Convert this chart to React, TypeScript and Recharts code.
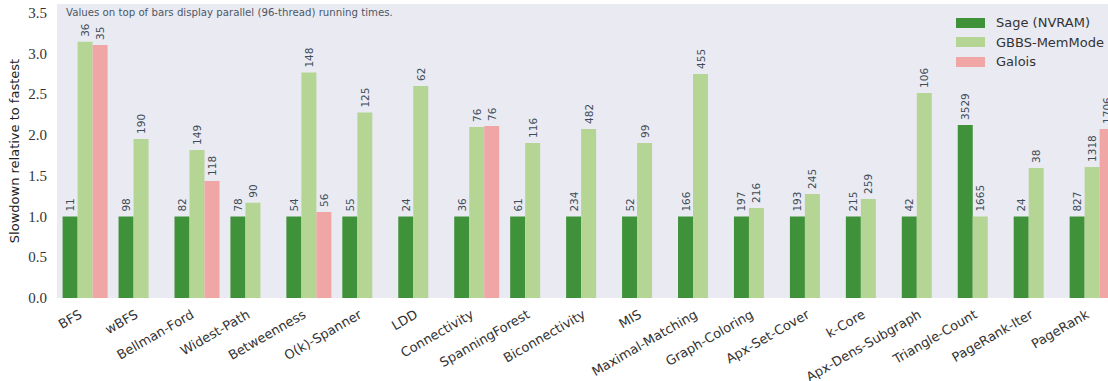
import React from "react";
import { BarChart, Bar, XAxis, YAxis, CartesianGrid, Legend, LabelList } from "recharts";

const categories = [
  "BFS", "wBFS", "Bellman-Ford", "Widest-Path", "Betweenness", "O(k)-Spanner", "LDD",
  "Connectivity", "SpanningForest", "Biconnectivity", "MIS", "Maximal-Matching",
  "Graph-Coloring", "Apx-Set-Cover", "k-Core", "Apx-Dens-Subgraph", "Triangle-Count",
  "PageRank-Iter", "PageRank",
];

const sageValues = [1, 1, 1, 1, 1, 1, 1, 1, 1, 1, 1, 1, 1, 1, 1, 1, 2.125, 1, 1];
const gbbsValues = [3.145, 1.953, 1.818, 1.17, 2.768, 2.277, 2.604, 2.1, 1.904, 2.076, 1.904, 2.752, 1.106, 1.278, 1.216, 2.518, 1.0, 1.597, 1.609];
const galoisValues: (number | null)[] = [3.108, null, 1.437, null, 1.057, null, null, 2.113, null, null, null, null, null, null, null, null, null, null, 2.076];

const sageTimes = ["11", "98", "82", "78", "54", "55", "24", "36", "61", "234", "52", "166", "197", "193", "215", "42", "3529", "24", "827"];
const gbbsTimes = ["36", "190", "149", "90", "148", "125", "62", "76", "116", "482", "99", "455", "216", "245", "259", "106", "1665", "38", "1318"];
const galoisTimes: (string | null)[] = ["35", null, "118", null, "56", null, null, "76", null, null, null, null, null, null, null, null, null, null, "1706"];

const yTicks = [0, 0.5, 1.0, 1.5, 2.0, 2.5, 3.0, 3.5];

const seriesNames = ["Sage (NVRAM)", "GBBS-MemMode", "Galois"];
const seriesColors = ["#3F913A", "#B5D594", "#F0A6A5"];

const data = categories.map((name, i) => ({
  name,
  sage: sageValues[i],
  gbbs: gbbsValues[i],
  galois: galoisValues[i],
  sageT: sageTimes[i],
  gbbsT: gbbsTimes[i],
  galoisT: galoisTimes[i],
}));

const SANS = "'DejaVu Sans', sans-serif";
const SERIF = "'Liberation Serif', 'DejaVu Serif', serif";

const XTick = (props: any) => {
  const { x, y, payload } = props;
  const ax = x - 2;
  const ay = y + 19;
  return (
    <text
      x={ax}
      y={ay}
      transform={`rotate(-30 ${ax} ${ay})`}
      textAnchor="end"
      fontSize={13}
      fill="#333333"
      fontFamily={SANS}
    >
      {payload.value}
    </text>
  );
};

const YTick = (props: any) => {
  const { x, y, payload } = props;
  return (
    <text
      x={x}
      y={y}
      textAnchor="end"
      dominantBaseline="central"
      fontSize={15}
      fill="#333333"
      style={{ fontFamily: SERIF }}
    >
      {Number(payload.value).toFixed(1)}
    </text>
  );
};

const ValueLabel = (props: any) => {
  const { x, y, width, value } = props;
  if (value === null || value === undefined || value === "") return null;
  const cx = Number(x) + Number(width) / 2;
  const cy = Number(y) - 5;
  return (
    <text
      x={cx}
      y={cy}
      transform={`rotate(-90 ${cx} ${cy})`}
      textAnchor="start"
      dominantBaseline="central"
      fontSize={10.5}
      fill="#3D4C58"
      fontFamily={SANS}
    >
      {value}
    </text>
  );
};

const LegendContent = (props: any) => {
  const payload = [...(props.payload || [])].sort(
    (a: any, b: any) => seriesNames.indexOf(a.value) - seriesNames.indexOf(b.value)
  );
  return (
    <div style={{ fontFamily: SANS, fontSize: 13, color: "#333333" }}>
      {payload.map((p: any, i: number) => (
        <div key={i} style={{ display: "flex", alignItems: "center", height: 19.5, whiteSpace: "nowrap" }}>
          <span style={{ display: "inline-block", width: 29, height: 10, background: p.color, marginRight: 11 }} />
          <span>{p.value}</span>
        </div>
      ))}
    </div>
  );
};

const YLabel = (props: any) => {
  const { viewBox } = props;
  const cx = 14;
  const cy = viewBox.y + viewBox.height / 2;
  return (
    <text
      x={cx}
      y={cy}
      transform={`rotate(-90 ${cx} ${cy})`}
      textAnchor="middle"
      dominantBaseline="central"
      fontSize={13}
      fill="#222222"
      fontFamily={SANS}
    >
      Slowdown relative to fastest
    </text>
  );
};

export default function App() {
  return (
    <div style={{ position: "absolute", left: 0, top: 0, width: 1108, height: 381, overflow: "hidden", background: "#ffffff" }}>
      <BarChart
        width={1120}
        height={381}
        data={data}
        margin={{ top: 4, right: 0, left: 0, bottom: 5 }}
        barCategoryGap="10%"
        barGap={0}
      >
        <CartesianGrid fill="#EAEAF2" stroke="none" horizontal={false} vertical={false} />
        <XAxis
          dataKey="name"
          interval={0}
          tick={<XTick />}
          tickLine={false}
          axisLine={false}
          tickSize={0}
          tickMargin={0}
          height={78}
        />
        <YAxis
          width={57}
          domain={[0, 3.61]}
          ticks={yTicks}
          tickLine={false}
          axisLine={false}
          tickSize={0}
          tickMargin={10}
          tick={<YTick />}
          label={<YLabel />}
        />
        <Legend
          layout="vertical"
          align="center"
          verticalAlign="middle"
          itemSorter={null as any}
          wrapperStyle={{ top: 13, left: 956, width: 160 }}
          content={<LegendContent />}
        />
        <Bar dataKey="sage" name={seriesNames[0]} fill={seriesColors[0]} isAnimationActive={false}>
          <LabelList dataKey="sageT" content={<ValueLabel />} />
        </Bar>
        <Bar dataKey="gbbs" name={seriesNames[1]} fill={seriesColors[1]} isAnimationActive={false}>
          <LabelList dataKey="gbbsT" content={<ValueLabel />} />
        </Bar>
        <Bar dataKey="galois" name={seriesNames[2]} fill={seriesColors[2]} isAnimationActive={false}>
          <LabelList dataKey="galoisT" content={<ValueLabel />} />
        </Bar>
      </BarChart>
      <svg style={{ position: "absolute", left: 0, top: 0, pointerEvents: "none" }} width={1108} height={30}>
        <text x={66} y={16} fontSize={10.2} fill="#4A5866" fontFamily={SANS}>
          Values on top of bars display parallel (96-thread) running times.
        </text>
      </svg>
    </div>
  );
}
